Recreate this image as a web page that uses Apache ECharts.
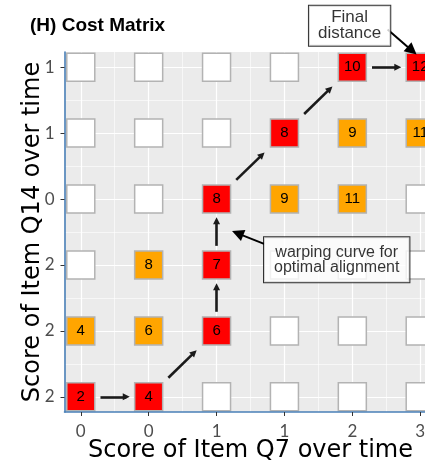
<!DOCTYPE html>
<html><head><meta charset="utf-8">
<script src="https://cdn.jsdelivr.net/npm/echarts@6/dist/echarts.min.js"></script>
<style>html,body{margin:0;padding:0;background:#fff}#c{width:425px;height:460px}</style>
</head><body><div id="c"></div>
<script>
// ---- data ----
const xTickLabels = ['0', '0', '1', '1', '2', '3'];          // Q7 scores over time
const yTickLabels = ['2', '2', '2', '0', '1', '1'];          // Q14 scores over time (bottom -> top)
const costRows = [                                           // bottom row first
  [2, 4, null, null, null, null],
  [4, 6, 6, null, null, null],
  [null, 8, 7, null, null, null],
  [null, null, 8, 9, 11, null],
  [null, null, null, 8, 9, 11],
  [null, null, null, null, 10, 12]
];
const warpPath = [[0,0],[1,0],[2,1],[2,2],[2,3],[3,4],[4,5],[5,5]];
const noteTexts = ['Final\ndistance', 'warping curve for\noptimal alignment'];
const noteAt = [[3.96, 5.63], [3.77, 2.08]];
const noteArrowFrom = [[4.52, 5.57], [2.70, 2.32]];
const noteArrowTo = [[4.88, 5.25], [2.31, 2.48]];

// ---- build ----
const onPath = new Set(warpPath.map(p => p[0] + ',' + p[1]));
const cells = [];
for (let r = 0; r < costRows.length; r++) {
  for (let c = 0; c < costRows[r].length; c++) {
    const v = costRows[r][c];
    let color = '#FFFFFF';
    if (onPath.has(c + ',' + r)) color = '#FF0000';
    else if (v != null) color = '#FFA500';
    cells.push({ value: [c, r, v], itemStyle: { color } });
  }
}
const pathSegs = [];
for (let i = 0; i < warpPath.length - 1; i++) {
  const a = warpPath[i], b = warpPath[i + 1];
  const f0 = 0.29, f1 = 0.67;
  pathSegs.push({ coords: [
    [a[0] + f0 * (b[0] - a[0]), a[1] + f0 * (b[1] - a[1])],
    [a[0] + f1 * (b[0] - a[0]), a[1] + f1 * (b[1] - a[1])]
  ] });
}
const noteSegs = noteArrowFrom.map((f, i) => ({ coords: [f, noteArrowTo[i]] }));
const noteItems = noteTexts.map((t, i) => ({
  value: noteAt[i],
  label: i === 0 ? { fontSize: 17, lineHeight: 16, padding: [4, 9, 4, 9] }
                 : { fontSize: 16, lineHeight: 15, padding: [8, 10, 7, 10] },
  name: t
}));

const grid = [];
for (let k = 0; k <= 10; k++) {
  const v = k / 2;
  const w = (k % 2 === 0) ? 1.2 : 0.6;
  grid.push({ xAxis: v, lineStyle: { width: w } });
  grid.push({ yAxis: v, lineStyle: { width: w } });
}

const tickFont = 'Lato';
const titleFont = 'DejaVu Sans';
const tickIdx = [0, 1, 2, 3, 4, 5];
const chart = echarts.init(document.getElementById('c'), null, { renderer: 'canvas' });
chart.setOption({
  animation: false,
  backgroundColor: '#FFFFFF',
  title: {
    text: '(H) Cost Matrix', left: 25, top: 11,
    textStyle: { fontFamily: 'Liberation Sans', fontWeight: 'bold', fontSize: 19, color: '#000' }
  },
  grid: { left: 64.5, top: 52, width: 372, height: 360, show: true, backgroundColor: '#EBEBEB', borderWidth: 0, outerBoundsMode: 'none', containLabel: false },
  xAxis: {
    type: 'value', min: -0.24, max: 5.24, z: 5,
    axisLine: { show: true, onZero: false, lineStyle: { color: '#4A80B8', width: 1.6 } },
    axisTick: { show: true, customValues: tickIdx, length: 4, lineStyle: { color: '#333333', width: 1 } },
    axisLabel: { customValues: tickIdx, formatter: v => xTickLabels[Math.round(v)], color: '#4D4D4D', fontSize: 17, fontFamily: tickFont, margin: 11 },
    splitLine: { show: false },
    name: 'Score of Item Q7 over time', nameLocation: 'middle', nameGap: 26.5, nameMoveOverlap: false,
    nameTextStyle: { fontSize: 24, fontFamily: titleFont, color: '#000' }
  },
  yAxis: {
    type: 'value', min: -0.23, max: 5.23, z: 5,
    axisLine: { show: true, onZero: false, lineStyle: { color: '#4A80B8', width: 1.6 } },
    axisTick: { show: true, customValues: tickIdx, length: 4, lineStyle: { color: '#333333', width: 1 } },
    axisLabel: { customValues: tickIdx, formatter: v => yTickLabels[Math.round(v)], color: '#4D4D4D', fontSize: 17, fontFamily: tickFont, margin: 10 },
    splitLine: { show: false },
    name: 'Score of Item Q14 over time', nameLocation: 'middle', nameGap: 19.5, nameMoveOverlap: false,
    nameTextStyle: { fontSize: 24, fontFamily: titleFont, color: '#000' }
  },
  series: [
    {
      type: 'scatter', data: [], z: 1, silent: true,
      markLine: {
        silent: true, symbol: 'none', z: 1, animation: false,
        label: { show: false },
        lineStyle: { color: '#FFFFFF', type: 'solid' },
        emphasis: { disabled: true },
        data: grid
      }
    },
    {
      type: 'scatter', z: 3, silent: true, clip: false,
      symbol: 'rect', symbolSize: 28,
      itemStyle: { borderColor: '#B3B3B3', borderWidth: 1.5, opacity: 1 },
      label: {
        show: true, position: 'inside', color: '#000', fontSize: 15, fontFamily: 'Liberation Sans',
        formatter: p => p.value[2] == null ? '' : String(p.value[2])
      },
      data: cells
    },
    {
      type: 'lines', coordinateSystem: 'cartesian2d', z: 4, silent: true, clip: false,
      symbol: ['none', 'triangle'], symbolSize: 7,
      lineStyle: { color: '#1A1A1A', width: 2.6, opacity: 1 },
      data: pathSegs
    },
    {
      type: 'lines', coordinateSystem: 'cartesian2d', z: 6, silent: true, clip: false,
      symbol: ['none', 'triangle'], symbolSize: 12,
      lineStyle: { color: '#000000', width: 2, opacity: 1 },
      data: noteSegs
    },
    {
      type: 'scatter', z: 7, silent: true, clip: false,
      symbol: 'rect', symbolSize: 1, itemStyle: { color: 'rgba(0,0,0,0)' },
      label: {
        show: true, position: 'inside', color: '#000', fontFamily: 'Liberation Sans',
        backgroundColor: '#FFFFFF', borderColor: '#000000', borderWidth: 1, align: 'center',
        formatter: p => p.name
      },
      data: noteItems
    }
  ]
});
</script></body></html>
